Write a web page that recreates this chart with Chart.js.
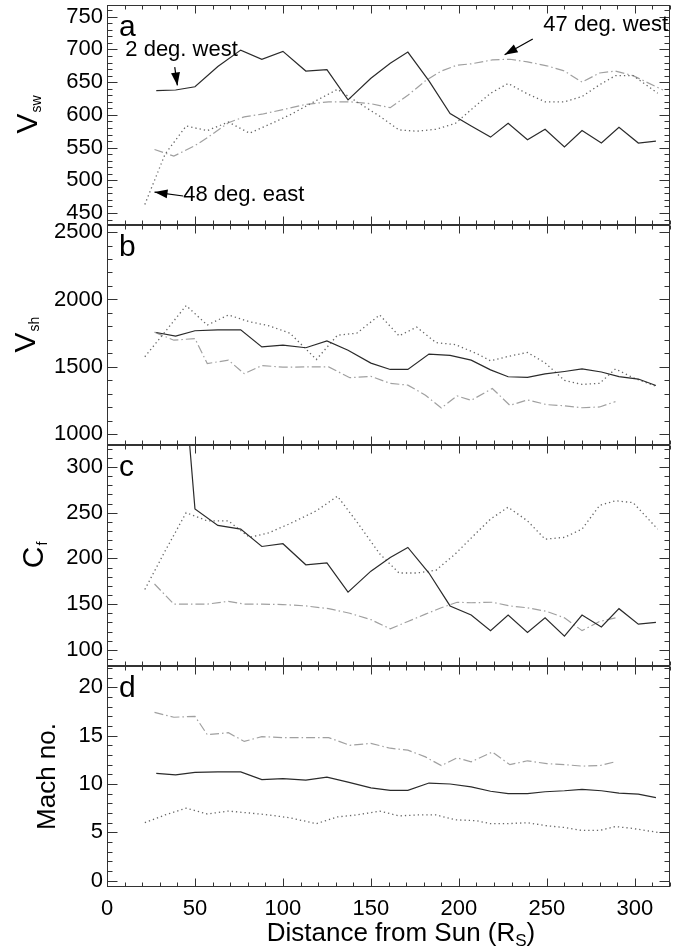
<!DOCTYPE html>
<html><head><meta charset="utf-8">
<script src="https://cdn.jsdelivr.net/npm/chart.js@4.4.1/dist/chart.umd.min.js"></script>
<style>
html,body{margin:0;padding:0;background:#fff;}
#wrap{position:relative;width:685px;height:949px;background:#fff;}
canvas{position:absolute;left:0;top:0;}
</style></head><body><div id="wrap">
<canvas id="ca" width="685" height="949"></canvas>
<canvas id="cb" width="685" height="949"></canvas>
<canvas id="cc" width="685" height="949"></canvas>
<canvas id="cd" width="685" height="949"></canvas>
</div>
<script>
// ---------- DATA ----------
// distances (R_S) of the three events
const xWest2  = [28, 39, 50, 63, 76, 88, 100, 113, 125, 137, 150, 161, 171, 183, 195, 207, 218, 228, 239, 249, 260, 270, 281, 291, 302, 312];
const xEast48 = [21.5, 33, 45, 57, 69, 81, 92, 104, 119, 131, 142, 155, 166, 176, 187, 198, 210, 218, 228, 239, 249, 260, 270, 280, 289, 299, 313];
const xWest47 = [27, 38, 50, 57, 69, 78, 88, 100, 113, 126, 138, 150, 161, 171, 181, 190, 199, 207, 219, 229, 239, 250, 260, 270, 280, 289, 299, 316];

// panel a: solar wind speed V_sw
const vswWest2  = [637, 638, 643, 674, 699, 685, 697, 667, 669, 623, 656, 679, 696, 652, 602, 583, 566, 587, 562, 578, 551, 576, 557, 581, 557, 560];
const vswEast48 = [463, 540, 583, 576, 589, 572, 585, 600, 622, 639, 620, 598, 577, 575, 578, 587, 615, 633, 648, 632, 620, 620, 628, 646, 660, 660, 633];
const vswWest47 = [547, 537, 553, 565, 588, 597, 601, 608, 616, 620, 620, 617, 611, 630, 652, 667, 676, 678, 684, 685, 681, 675, 667, 650, 664, 667, 660, 638];

// panel b: shock speed V_sh
const vshWest2  = [1755, 1728, 1768, 1775, 1775, 1648, 1662, 1642, 1692, 1624, 1528, 1481, 1481, 1595, 1585, 1550, 1478, 1427, 1422, 1448, 1466, 1485, 1462, 1428, 1410, 1362];
const vshEast48 = [1575, 1760, 1955, 1810, 1885, 1835, 1805, 1750, 1555, 1735, 1750, 1885, 1730, 1795, 1680, 1665, 1600, 1545, 1578, 1607, 1530, 1400, 1370, 1378, 1485, 1420, 1352];
const vshWest47 = [1758, 1698, 1710, 1525, 1550, 1450, 1510, 1498, 1500, 1500, 1420, 1430, 1378, 1365, 1290, 1195, 1285, 1252, 1340, 1215, 1255, 1220, 1212, 1197, 1203, 1243, null, null];

// panel c: fast magnetosonic speed C_f
const cfWest2  = [null, 510, 254, 236, 232, 213, 216, 193, 195, 163, 186, 201, 212, 184, 148, 138, 121, 138, 119, 135, 115, 138, 125, 145, 128, 130];
const cfEast48 = [166, 208, 250, 241, 241, 223, 228, 238, 252, 268, 240, 205, 184, 184, 187, 205, 228, 243, 256, 241, 221, 223, 232, 258, 263, 261, 232];
const cfWest47 = [172, 150, 150, 150, 153, 150, 150, 149.5, 148, 145, 140, 133, 123, 131, 139, 146, 152, 151.5, 152, 148, 146, 142, 135, 121, 131, 135, null, null];

// panel d: Mach number
const machWest2  = [11.1, 10.95, 11.2, 11.25, 11.25, 10.45, 10.55, 10.4, 10.7, 10.2, 9.6, 9.35, 9.35, 10.1, 10.0, 9.7, 9.25, 9.0, 9.0, 9.2, 9.3, 9.45, 9.3, 9.05, 8.95, 8.6];
const machEast48 = [6.0, 6.8, 7.5, 6.9, 7.2, 7.0, 6.8, 6.5, 5.9, 6.6, 6.8, 7.2, 6.7, 6.8, 6.8, 6.3, 6.2, 5.9, 5.9, 6.0, 5.7, 5.5, 5.2, 5.2, 5.6, 5.4, 5.0];
const machWest47 = [17.4, 16.9, 17.0, 15.1, 15.3, 14.4, 14.9, 14.8, 14.8, 14.8, 14.0, 14.2, 13.7, 13.5, 12.8, 11.9, 12.7, 12.3, 13.3, 12.0, 12.4, 12.1, 12.0, 11.85, 11.9, 12.3, null, null];

// tick labels
const xTicks = [0, 50, 100, 150, 200, 250, 300];
const vswTicks = [450, 500, 550, 600, 650, 700, 750];
const vshTicks = [1000, 1500, 2000, 2500];
const cfTicks = [100, 150, 200, 250, 300];
const machTicks = [0, 5, 10, 15, 20];

// annotations (panel a)
const labelWest2 = '2 deg. west';
const labelWest47 = '47 deg. west';
const labelEast48 = '48 deg. east';
const xTitle = 'Distance from Sun (R';
const xTitleSub = 'S';

// ---------- LAYOUT / STYLE ----------
const FONT = '"Liberation Sans", Arial, Helvetica, sans-serif';
const W = 685, H = 949, AXW = 107, PADR = 15;
const panels = [
  {id:'ca', letter:'a', top:5,   bottom:225, yMin:431.7, yMax:767.9, major:vswTicks,  minor:10,  sol:vswWest2,  dot:vswEast48,  dsh:vswWest47,  title:['V','sw'], tx:29},
  {id:'cb', letter:'b', top:225, bottom:445, yMin:921,   yMax:2552,  major:vshTicks,  minor:100, sol:vshWest2,  dot:vshEast48,  dsh:vshWest47,  title:['V','sh'], tx:27},
  {id:'cc', letter:'c', top:445, bottom:666, yMin:82.3,  yMax:324,   major:cfTicks,   minor:10,  sol:cfWest2,   dot:cfEast48,   dsh:cfWest47,   title:['C','f'],  tx:35},
  {id:'cd', letter:'d', top:666, bottom:887, yMin:-0.65, yMax:22.2,  major:machTicks, minor:1,   sol:machWest2, dot:machEast48, dsh:machWest47, title:['Mach no.',''], tx:48}
];

function arrow(ctx, x1, y1, x2, y2) {
  ctx.save();
  ctx.strokeStyle = '#000'; ctx.fillStyle = '#000'; ctx.lineWidth = 1.2;
  ctx.beginPath(); ctx.moveTo(x1, y1); ctx.lineTo(x2, y2); ctx.stroke();
  const a = Math.atan2(y2 - y1, x2 - x1), L = 13, Wd = 4.5;
  ctx.beginPath();
  ctx.moveTo(x2, y2);
  ctx.lineTo(x2 - L*Math.cos(a) + Wd*Math.sin(a), y2 - L*Math.sin(a) - Wd*Math.cos(a));
  ctx.lineTo(x2 - L*Math.cos(a) - Wd*Math.sin(a), y2 - L*Math.sin(a) + Wd*Math.cos(a));
  ctx.closePath(); ctx.fill();
  ctx.restore();
}

function framePlugin(p, isBottom) {
  return {
    id: 'frame' + p.letter,
    afterDraw(chart) {
      const ctx = chart.ctx, ca = chart.chartArea;
      const xs = chart.scales.x, ys = chart.scales.y;
      const L = Math.round(ca.left) + 0.5, R = Math.round(ca.right) - 0.5;
      const T = Math.round(ca.top) + 0.5, B = Math.round(ca.bottom) - 0.5;
      ctx.save();
      ctx.strokeStyle = '#333'; ctx.lineWidth = 1;
      ctx.strokeRect(L, T, R - L, B - T);
      ctx.beginPath();
      for (let v = 0; v <= 320; v += 10) {
        const px = Math.round(xs.getPixelForValue(v)) + 0.5;
        const len = (v % 50 === 0) ? 8 : 4;
        ctx.moveTo(px, B); ctx.lineTo(px, B - len);
        ctx.moveTo(px, T); ctx.lineTo(px, T + len);
      }
      const start = Math.ceil(p.yMin / p.minor) * p.minor;
      for (let v = start; v <= p.yMax + 1e-9; v += p.minor) {
        const py = Math.round(ys.getPixelForValue(v)) + 0.5;
        const isMaj = p.major.some(m => Math.abs(m - v) < 1e-6);
        const len = isMaj ? 10 : 5;
        ctx.moveTo(L, py); ctx.lineTo(L + len, py);
        ctx.moveTo(R, py); ctx.lineTo(R - len, py);
      }
      ctx.stroke();
      ctx.fillStyle = '#000';
      ctx.font = '30px ' + FONT;
      ctx.textBaseline = 'alphabetic'; ctx.textAlign = 'left';
      ctx.fillText(p.letter, 119, ca.top + 31);
      const cy = (ca.top + ca.bottom) / 2;
      ctx.save();
      ctx.translate(p.tx, cy);
      ctx.rotate(-Math.PI / 2);
      ctx.textBaseline = 'middle';
      if (p.title[1]) {
        ctx.font = '30px ' + FONT;
        const w1 = ctx.measureText(p.title[0]).width;
        ctx.font = '14px ' + FONT;
        const w2 = ctx.measureText(p.title[1]).width;
        const x0 = -(w1 + w2) / 2;
        ctx.font = '30px ' + FONT;
        ctx.textAlign = 'left';
        ctx.fillText(p.title[0], x0, 0);
        ctx.font = '14px ' + FONT;
        ctx.fillText(p.title[1], x0 + w1 + 1, 8);
      } else {
        ctx.font = '26px ' + FONT;
        ctx.textAlign = 'center';
        ctx.fillText(p.title[0], 0, 0);
      }
      ctx.restore();
      if (p.letter === 'a') {
        ctx.font = '22px ' + FONT;
        ctx.textBaseline = 'middle'; ctx.textAlign = 'left';
        ctx.fillText(labelWest2, xs.getPixelForValue(10.4), ys.getPixelForValue(699));
        ctx.fillText(labelWest47, xs.getPixelForValue(248), ys.getPixelForValue(737));
        ctx.fillText(labelEast48, xs.getPixelForValue(43.3), ys.getPixelForValue(478));
        arrow(ctx, xs.getPixelForValue(38.5), ys.getPixelForValue(673), xs.getPixelForValue(40), ys.getPixelForValue(645));
        arrow(ctx, xs.getPixelForValue(242), ys.getPixelForValue(716), xs.getPixelForValue(226), ys.getPixelForValue(692));
        arrow(ctx, xs.getPixelForValue(43.3), ys.getPixelForValue(476), xs.getPixelForValue(27), ys.getPixelForValue(482));
      }
      if (isBottom) {
        ctx.font = '26px ' + FONT;
        ctx.textBaseline = 'middle'; ctx.textAlign = 'left';
        const w1 = ctx.measureText(xTitle).width;
        ctx.font = '17px ' + FONT;
        const w2 = ctx.measureText(xTitleSub).width;
        ctx.font = '26px ' + FONT;
        const w3 = ctx.measureText(')').width;
        const x0 = 401 - (w1 + w2 + w3) / 2, y0 = 934;
        ctx.fillText(xTitle, x0, y0);
        ctx.font = '17px ' + FONT;
        ctx.fillText(xTitleSub, x0 + w1, y0 + 7);
        ctx.font = '26px ' + FONT;
        ctx.fillText(')', x0 + w1 + w2, y0);
      }
      ctx.restore();
    }
  };
}

function series(xs, ys) { return xs.map((x, i) => ({x: x, y: (ys[i] === undefined ? null : ys[i])})); }

panels.forEach((p, idx) => {
  const isBottom = idx === panels.length - 1;
  const ctx = document.getElementById(p.id).getContext('2d');
  new Chart(ctx, {
    type: 'line',
    data: {datasets: [
      {data: series(xWest2, p.sol),  borderColor:'#2a2a2a', borderWidth:1.2, pointRadius:0, tension:0, spanGaps:false},
      {data: series(xEast48, p.dot), borderColor:'#666666', borderWidth:1.3, borderDash:[1.3, 3], pointRadius:0, tension:0, spanGaps:false},
      {data: series(xWest47, p.dsh), borderColor:'#a0a0a0', borderWidth:1.2, borderDash:[9, 3, 1.5, 3], pointRadius:0, tension:0, spanGaps:false}
    ]},
    options: {
      responsive:false, animation:false, devicePixelRatio:1, events:[],
      layout:{padding:{left:0, right:PADR, top:p.top, bottom: isBottom ? (H - p.bottom - 40) : (H - p.bottom)}},
      plugins:{legend:{display:false}, tooltip:{enabled:false}},
      scales:{
        x:{type:'linear', min:0, max:320, display:isBottom,
           grid:{display:false, drawTicks:false}, border:{display:false},
           afterFit:(s)=>{ if (isBottom) s.height = 40; s.paddingLeft = 0; s.paddingRight = 0; },
           afterBuildTicks:(s)=>{s.ticks = xTicks.map(v=>({value:v}));},
           ticks:{font:{family:FONT, size:22}, color:'#000', padding:9, maxRotation:0, autoSkip:false, callback:(v)=>String(v)}},
        y:{type:'linear', min:p.yMin, max:p.yMax,
           grid:{display:false, drawTicks:false}, border:{display:false},
           afterFit:(s)=>{ s.width = AXW; s.paddingTop = 0; s.paddingBottom = 0; },
           afterBuildTicks:(s)=>{s.ticks = p.major.map(v=>({value:v}));},
           ticks:{font:{family:FONT, size:22}, color:'#000', padding:4, autoSkip:false, callback:(v)=>String(v)}}
      }
    },
    plugins:[framePlugin(p, isBottom)]
  });
});
</script>
</body></html>
